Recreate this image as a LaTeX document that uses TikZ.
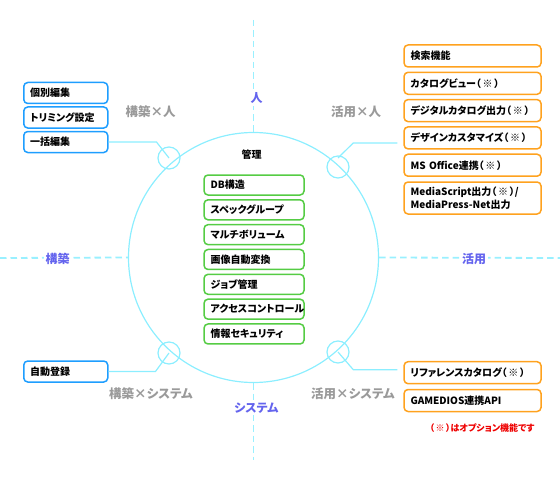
\documentclass[tikz,border=0pt]{standalone}
\usepackage{fontspec}
\setmainfont{Noto Sans CJK JP}[RawFeature=+palt]
\usetikzlibrary{positioning}
\definecolor{axiscyan}{HTML}{99F0FF}
\definecolor{ringcyan}{HTML}{8CEEFF}
\definecolor{axisblue}{HTML}{6464EE}
\definecolor{quadgray}{HTML}{9A9A9A}
\definecolor{bluebox}{HTML}{1E9EFF}
\definecolor{greenbox}{HTML}{55CC44}
\definecolor{orangebox}{HTML}{FFA21E}
\definecolor{notered}{HTML}{EE0000}

\begin{document}
\begin{tikzpicture}[x=1pt,y=-1pt,font=\bfseries\fontsize{10}{12}\selectfont,
  featbox/.style={draw=#1, line width=1.5pt, rounded corners=4pt, fill=white, anchor=west,
    align=left, inner xsep=6.5pt, inner ysep=0pt, minimum height=21pt},
  axislbl/.style={text=axisblue, fill=white, inner sep=2pt, font=\bfseries\fontsize{12}{14}\selectfont},
  quadlbl/.style={text=quadgray, font=\bfseries\fontsize{12.5}{14}\selectfont},
  ring/.style={draw=ringcyan, line width=1.2pt},
  axisline/.style={draw=axiscyan, line width=1.8pt, dash pattern=on 6.5pt off 4pt}]
\useasboundingbox (0,0) rectangle (560,495);
\def\cx{253.5} \def\cy{257.5} \def\ay{258}
\def\xl{23} \def\xg{203.3} \def\xr{403.3}

\node[ring, circle, minimum size=250pt, inner sep=0pt] (kanri) at (\cx,\cy) {};
\draw[axisline] (\cx,20) -- (kanri.north);
\draw[axisline] (kanri.south) -- (\cx,460);
\draw[axisline] (0,\ay) -- (kanri.west);
\draw[axisline] (kanri.east) -- (560,\ay);

\node[axislbl] (hito) at (256.5,98) {人};
\node[axislbl] (kouchiku) at (57.5,258.5) {構築};
\node[axislbl] (katsuyou) at (474,258.5) {活用};
\node[axislbl] (system) at (256.3,408) {システム};

\node[quadlbl] (kh) at (150.5,112) {構築×人};
\node[quadlbl] (ah) at (356,112) {活用×人};
\node[quadlbl] (ks) at (151,394) {構築×システム};
\node[quadlbl] (as) at (353,394) {活用×システム};

\foreach \n/\x/\y in {tlknot/169/158, trknot/338/167, blknot/169/353, brknot/338/352}
  \node[ring, circle, minimum size=22pt, inner sep=0pt] (\n) at (\x,\y) {};

\node (kanrilbl) at (251.7,155) {管理};
\foreach \lbl [count=\i] in {DB構造, スペックグループ, マルチボリューム, 画像自動変換, ジョブ管理, アクセスコントロール, 情報セキュリティ}
  \node[featbox=greenbox, text width=87pt, minimum height=20pt] (g\i) at (\xg,{185+24.83*(\i-1)}) {\lbl};

\foreach \lbl [count=\i] in {個別編集, トリミング設定, 一括編集}
  \node[featbox=bluebox, text width=71pt] (b\i) at (\xl,{93+24.5*(\i-1)}) {\lbl};
\node[featbox=bluebox, text width=71pt] (b4) at (\xl,371.5) {自動登録};

\foreach \lbl [count=\i] in {検索機能, カタログビュー（\,※\,）, デジタルカタログ出力（\,※\,）, デザインカスタマイズ（\,※\,）, MS Office連携（\,※\,）}
  \node[featbox=orangebox, text width=124pt, minimum height=22pt] (o\i) at (\xr,{56+27.3*(\i-1)}) {\lbl};
\node[featbox=orangebox, text width=124pt, minimum height=32pt, font=\bfseries\fontsize{10}{13}\selectfont] (o6) at (\xr,198) {MediaScript出力（\,※\,）/\\MediaPress-Net出力};
\node[featbox=orangebox, text width=124pt, minimum height=22pt] (o7) at (\xr,372.7) {リファレンスカタログ（\,※\,）};
\node[featbox=orangebox, text width=124pt, minimum height=22pt] (o8) at (\xr,400.5) {GAMEDIOS連携API};

\draw[ring] (b3.east) -- ++(48,0) -- (tlknot.center);
\draw[ring, shorten <=6pt] ([yshift=-5pt]o4.west) -- ++(-50,0) -- ([yshift=9pt]trknot.center);
\draw[ring] (b4.east) -- ++(47,0) -- (blknot.center);
\draw[ring, shorten <=6pt] ([yshift=3pt]o7.west) -- ++(-50,0) -- (brknot.center);

\node[text=notered, anchor=east, font=\bfseries\fontsize{9}{11}\selectfont] (note) at (538,428) {（\,※\,）はオプション機能です};
\end{tikzpicture}
\end{document}
